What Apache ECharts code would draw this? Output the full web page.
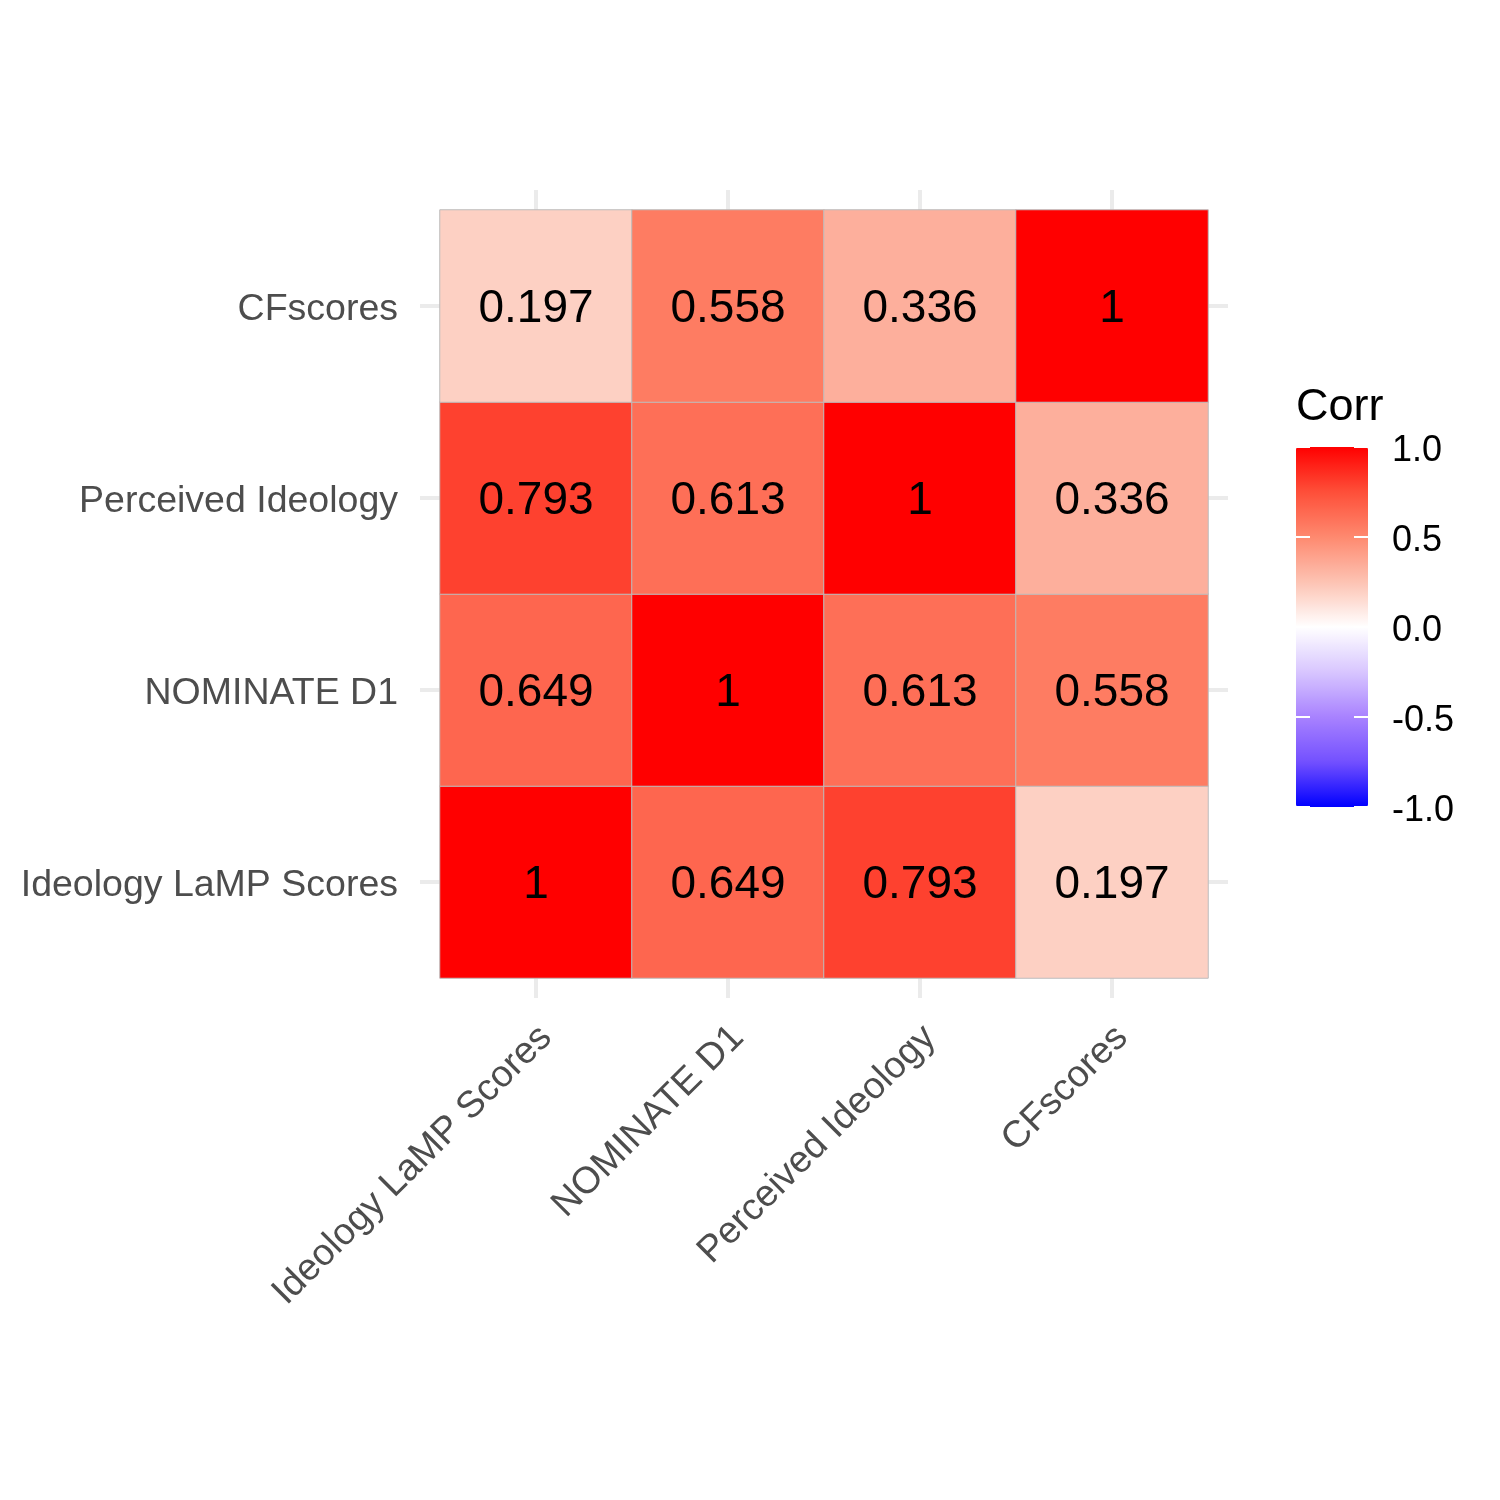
<!DOCTYPE html>
<html>
<head>
<meta charset="utf-8">
<script src="https://cdn.jsdelivr.net/npm/echarts@6/dist/echarts.min.js"></script>
<style>
  html, body { margin: 0; padding: 0; background: #fff; }
  #chart { width: 1500px; height: 1500px; }
</style>
</head>
<body>
<div id="chart"></div>
<script>
// variables, in axis order (x left->right, y bottom->top)
var vars = ['Ideology LaMP Scores', 'NOMINATE D1', 'Perceived Ideology', 'CFscores'];

// correlation rows, one per variable
var corrLaMP = [1, 0.649, 0.793, 0.197];
var corrNominate = [0.649, 1, 0.613, 0.558];
var corrPerceived = [0.793, 0.613, 1, 0.336];
var corrCF = [0.197, 0.558, 0.336, 1];

var corrRows = [corrLaMP, corrNominate, corrPerceived, corrCF];
var cells = [];
for (var i = 0; i < corrRows.length; i++) {
    for (var j = 0; j < corrRows[i].length; j++) {
        cells.push([i, j, corrRows[i][j]]);
    }
}

var font = 'Liberation Sans, Arial, Helvetica, sans-serif';
var chart = echarts.init(document.getElementById('chart'));

var option = {
    backgroundColor: '#fff',
    animation: false,
    title: {
        text: 'Corr',
        left: 1296,
        top: 385,
        padding: 0,
        textStyle: { fontFamily: font, fontSize: 45, fontWeight: 'normal', color: '#000' }
    },
    grid: [
        { left: 440, right: 292, top: 210, bottom: 522 },
        { left: 1296, top: 447, width: 72, height: 360 }
    ],
    xAxis: [{
        type: 'category',
        gridIndex: 0,
        data: vars,
        offset: 20,
        axisLine: { show: false },
        axisTick: { show: true, inside: true, alignWithLabel: true, length: 808,
            lineStyle: { color: '#EBEBEB', width: 4 } },
        splitLine: { show: false },
        // top-aligned short line box nudges the rotated text down-right
        axisLabel: { rotate: 45, margin: 24, verticalAlign: 'top', lineHeight: 28,
            fontFamily: font, fontSize: 37.5, color: '#4D4D4D', interval: 0 }
    }, {
        type: 'value',
        gridIndex: 1,
        show: false,
        min: 0,
        max: 1
    }],
    yAxis: [{
        type: 'category',
        gridIndex: 0,
        data: vars,
        offset: 20,
        axisLine: { show: false },
        axisTick: { show: true, inside: true, alignWithLabel: true, length: 808,
            lineStyle: { color: '#EBEBEB', width: 4 } },
        splitLine: { show: false },
        axisLabel: { margin: 22, verticalAlign: 'top', lineHeight: 8,
            fontFamily: font, fontSize: 37.5, color: '#4D4D4D', interval: 0 }
    }, {
        type: 'value',
        gridIndex: 1,
        position: 'left',
        min: -1,
        max: 1,
        interval: 0.5,
        z: 10,
        axisLine: { show: false },
        axisTick: { show: true, inside: true, length: 14, lineStyle: { color: '#fff', width: 2 } },
        splitLine: { show: false },
        axisLabel: { show: false }
    }, {
        type: 'value',
        gridIndex: 1,
        position: 'right',
        min: -1,
        max: 1,
        interval: 0.5,
        z: 10,
        axisLine: { show: false },
        axisTick: { show: true, inside: true, length: 14, lineStyle: { color: '#fff', width: 2 } },
        splitLine: { show: false },
        axisLabel: { margin: 24, verticalAlign: 'top', lineHeight: 8,
            fontFamily: font, fontSize: 36, color: '#000',
            formatter: function (v) { return v.toFixed(1); } }
    }],
    visualMap: {
        type: 'continuous',
        seriesIndex: 0,
        min: -1,
        max: 1,
        calculable: false,
        hoverLink: false,
        left: 1296,
        top: 447,
        padding: 0,
        itemWidth: 72,
        itemHeight: 360,
        text: null,
        showLabel: false,
        inRange: {
            color: ['#0000FF', '#7350FF', '#A882FF', '#D8C6FF', '#FFFFFF',
                    '#FDC3B3', '#FE896F', '#FE4F39', '#FF0000']
        }
    },
    series: [{
        type: 'heatmap',
        xAxisIndex: 0,
        yAxisIndex: 0,
        data: cells,
        itemStyle: { borderColor: '#BDBDBD', borderWidth: 1 },
        label: {
            show: true,
            offset: [0, 3],
            fontFamily: font,
            fontSize: 46,
            color: '#000',
            formatter: function (p) { return String(p.value[2]); }
        },
        emphasis: { disabled: true }
    }, {
        type: 'line',
        xAxisIndex: 1,
        yAxisIndex: 1,
        data: [],
        silent: true
    }, {
        type: 'line',
        xAxisIndex: 1,
        yAxisIndex: 2,
        data: [],
        silent: true
    }]
};

chart.setOption(option);
</script>
</body>
</html>
